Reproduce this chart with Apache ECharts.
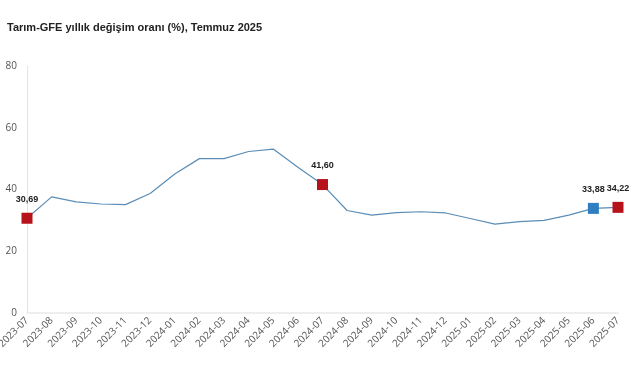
<!DOCTYPE html>
<html>
<head>
  <meta charset="UTF-8">
  <title>Tarım-GFE</title>
  <script src="https://cdn.jsdelivr.net/npm/echarts@6/dist/echarts.min.js"></script>
  <style>
    html, body { margin: 0; padding: 0; background: #fff; }
    #chart { width: 640px; height: 375px; }
  </style>
</head>
<body>
  <div id="chart"></div>
  <script>
    const months = ['2023-07', '2023-08', '2023-09', '2023-10', '2023-11', '2023-12',
      '2024-01', '2024-02', '2024-03', '2024-04', '2024-05', '2024-06',
      '2024-07', '2024-08', '2024-09', '2024-10', '2024-11', '2024-12',
      '2025-01', '2025-02', '2025-03', '2025-04', '2025-05', '2025-06', '2025-07']
    const rates = [30.69, 37.6, 36.0, 35.3, 35.1, 38.7,
      45.0, 50.0, 50.0, 52.3, 53.1, 47.2,
      41.60, 33.2, 31.7, 32.5, 32.8, 32.4,
      30.6, 28.8, 29.6, 30.0, 31.7, 33.88, 34.22]
    const redPoints = ['2023-07', '2024-07', '2025-07']
    const bluePoints = ['2025-06']
    const yTicks = [0, 20, 40, 60, 80]

    const myChart = echarts.init(document.querySelector('#chart'))

    const data = rates.map((v, i) => {
      const m = months[i]
      let color = null
      if (redPoints.includes(m)) color = '#b5121b'
      if (bluePoints.includes(m)) color = '#2f7ec1'
      if (!color) return { value: v, symbol: 'none' }
      return {
        value: v,
        symbol: 'rect',
        symbolSize: 11,
        itemStyle: { color: color },
        label: {
          show: true,
          position: 'top',
          distance: 9,
          formatter: p => p.value.toFixed(2).replace('.', ','),
          fontSize: 9,
          fontWeight: 'bold',
          color: '#222',
          fontFamily: 'Liberation Sans'
        }
      }
    })

    const option = {
      animation: false,
      title: {
        text: 'Tarım-GFE yıllık değişim oranı (%), Temmuz 2025',
        left: 2,
        top: 17,
        textStyle: { fontSize: 11, fontWeight: 'bold', color: '#222', fontFamily: 'Liberation Sans' }
      },
      grid: { left: 27, right: 22, top: 66, bottom: 62, outerBoundsMode: 'none' },
      xAxis: {
        type: 'category',
        boundaryGap: false,
        data: months,
        axisLine: { lineStyle: { color: '#eeeeee', width: 2 } },
        axisTick: { show: false },
        axisLabel: {
          rotate: 45,
          interval: 0,
          margin: 6,
          fontSize: 10,
          color: '#555',
          fontFamily: 'Open Sans'
        }
      },
      yAxis: {
        type: 'value',
        min: 0,
        max: 80,
        interval: 20,
        axisLine: { show: true, lineStyle: { color: '#e4e4e4' } },
        axisTick: { show: false },
        splitLine: { show: false },
        axisLabel: {
          margin: 10,
          fontSize: 10,
          color: '#555',
          fontFamily: 'Open Sans',
          formatter: v => yTicks.includes(v) ? String(v) : ''
        }
      },
      series: [
        {
          type: 'line',
          data: data,
          lineStyle: { color: '#5b8db6', width: 1.2 },
          itemStyle: { color: '#5b8db6' },
          showAllSymbol: true
        }
      ]
    }

    myChart.setOption(option)
  </script>
</body>
</html>
